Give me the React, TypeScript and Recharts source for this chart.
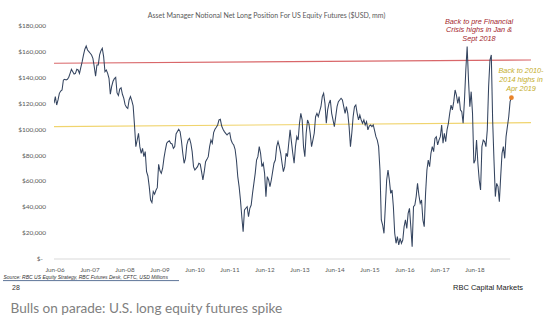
import React from 'react';
import { LineChart, Line, XAxis, YAxis, ReferenceLine, ReferenceDot } from 'recharts';

// CFTC asset manager net long, US equity futures ($mm), biweekly prints
const seriesStart = 2006.385;
const stepYears = 14 / 365.25;

// values in $ thousands of millions (k)
const net2006to2008 = [
  120.0, 125.2, 118.7, 122.6, 127.7, 129.5, 130.3, 138.0, 138.5, 138.0, 138.5, 140.1, 143.1, 146.2,
  144.4, 142.6, 143.1, 146.2, 145.7, 143.1, 147.8, 152.1, 157.3, 161.7, 164.2, 161.1, 159.9, 158.6,
  157.3, 154.7, 148.3, 141.0, 149.6, 149.6, 157.3, 160.6, 162.4, 156.0, 144.4, 145.7, 143.1, 139.3,
  127.0, 133.0, 137.0, 139.0, 140.0, 128.0, 126.0, 131.0, 132.0, 127.0, 124.0, 119.0, 117.0, 116.0,
];
const net2008to2010 = [
  122.6, 125.2, 122.1, 118.0, 103.3, 86.6, 91.7, 96.9, 86.6, 81.5, 85.3, 78.9, 82.8, 67.3, 64.0,
  55.8, 45.5, 43.5, 52.0, 50.0, 53.0, 55.0, 73.0, 68.0, 66.0, 70.0, 78.0, 84.0, 89.2, 90.5, 91.2,
  89.2, 88.7, 85.3, 86.6, 96.4, 98.2, 100.0, 98.2, 91.2, 81.5, 73.8, 77.6, 87.9, 91.7, 93.0, 89.2,
  82.8, 71.2, 68.6, 69.9, 71.2, 73.8, 73.2, 67.3, 60.9, 67.3, 75.0,
];
const net2010to2012 = [
  76.8, 78.9, 86.6, 91.7, 89.2, 97.4, 100.0, 101.5, 103.3, 107.2, 107.7, 102.5, 100.0, 98.2, 96.9,
  95.6, 96.9, 97.4, 91.7, 89.2, 87.9, 84.6, 76.3, 63.5, 55.8, 45.5, 32.6, 21.1, 37.8, 39.1, 40.3,
  32.6, 39.1, 41.6, 50.6, 58.3, 66.0, 76.3, 78.9, 86.6, 81.5, 71.2, 73.8, 66.0, 48.1, 63.5, 60.9,
  55.8, 60.9, 67.3, 73.8, 76.3, 86.6, 90.5, 86.6, 81.5, 73.8, 67.3, 71.2,
];
const net2012to2014 = [
  81.5, 78.9, 89.2, 99.5, 90.5, 81.5, 73.8, 86.6, 94.3, 91.7, 104.6, 112.3, 107.2, 86.6, 78.9,
  96.9, 107.2, 104.6, 96.9, 86.6, 91.7, 96.9, 109.7, 112.3, 109.7, 113.6, 117.4, 125.2, 127.7,
  120.0, 104.6, 114.9, 120.0, 122.6, 112.3, 107.2, 102.0, 109.7, 117.4, 121.3, 122.6, 123.9, 122.6,
  117.4, 112.3, 117.4, 112.3, 102.0, 86.6, 96.9, 109.7, 117.4, 118.7, 112.3, 107.2, 111.0, 107.2,
  104.6,
];
const net2014to2017 = [
  107.2, 103.3, 105.9, 99.5, 102.5, 103.3, 102.0, 103.3, 98.9, 94.3, 91.7, 86.6, 68.6, 30.1, 26.2,
  19.8, 40.3, 60.9, 68.6, 60.9, 50.6, 53.2, 40.3, 19.8, 12.1, 17.2, 10.8, 15.9, 12.1, 14.6, 24.9,
  30.1, 23.6, 35.2, 39.1, 24.9, 9.5, 40.3, 41.6, 48.1, 58.3, 49.3, 42.9, 45.5, 30.1, 24.9, 50.6,
  68.6, 76.3, 71.2, 81.5, 86.6, 82.8, 93.0, 94.3, 87.9, 91.7, 94.3, 103.3,
];
const net2017to2019 = [
  89.2, 96.9, 90.5, 99.5, 104.6, 112.3, 118.7, 114.9, 121.3, 130.3, 126.4, 120.0, 125.2, 114.9,
  113.6, 104.6, 122.6, 145.7, 163.7, 138.0, 117.4, 129.0, 112.3, 73.8, 76.3, 91.7, 73.8, 60.9, 53.2,
  86.6, 91.7, 90.5, 86.6, 99.5, 132.9, 153.4, 157.3, 107.2, 76.3, 48.1, 58.3, 55.8, 44.2, 63.5,
  81.5, 86.6, 77.6, 94.3, 102.0, 109.7, 121.3, 124.4,
];

const yTicks = [0, 20000, 40000, 60000, 80000, 100000, 120000, 140000, 160000, 180000];
const tickYears = [2006, 2007, 2008, 2009, 2010, 2011, 2012, 2013, 2014, 2015, 2016, 2017, 2018];
const juneOffset = 151 / 365;

// trend bands: pre-crisis highs and 2010-2014 highs (start, end)
const crisisBand = [150900, 153400];
const midBand = [102000, 105100];

const xMin = 2006.385;
const xMax = 2020.015;
const axisEnd = 2019.42;

const netLong = [
  ...net2006to2008,
  ...net2008to2010,
  ...net2010to2012,
  ...net2012to2014,
  ...net2014to2017,
  ...net2017to2019,
].map((k) => k * 1000);

const data = netLong.map((v, i) => ({ t: seriesStart + i * stepYears, v }));
const last = data[data.length - 1];

const fmtMoney = (v: number) => (v === 0 ? '$-' : '$' + v.toLocaleString('en-US'));

const YTick = (props: any) => {
  const { x, y, payload } = props;
  return (
    <text
      x={payload.value === 0 ? x - 3 : x}
      y={y}
      dy={2.3}
      textAnchor="end"
      fontSize={6.5}
      fill="#595959"
      fontFamily="Lato"
    >
      {fmtMoney(payload.value)}
    </text>
  );
};

const XTick = (props: any) => {
  const { x, y, payload } = props;
  const yr = Math.round(payload.value - juneOffset);
  return (
    <text x={x} y={y} dy={5} textAnchor="middle" fontSize={6.3} fill="#595959" fontFamily="Lato">
      {'Jun-' + String(yr).slice(2)}
    </text>
  );
};

export default function App() {
  return (
    <div style={{ position: 'absolute', left: 0, top: 0, width: 554, height: 325, background: '#fff' }}>
      <LineChart
        width={554}
        height={280}
        data={data}
        margin={{ top: 25.5, right: 23, bottom: 1, left: 0 }}
      >
        <XAxis
          dataKey="t"
          type="number"
          domain={[xMin, xMax]}
          allowDataOverflow
          ticks={tickYears.map((y) => y + juneOffset)}
          interval={0}
          axisLine={false}
          tickLine={false}
          height={20}
          tick={<XTick />}
        />
        <YAxis
          type="number"
          domain={[0, 180000]}
          ticks={yTicks}
          interval={0}
          axisLine={false}
          tickLine={false}
          width={54}
          tick={<YTick />}
        />
        <ReferenceLine
          segment={[{ x: xMin, y: 0 }, { x: axisEnd, y: 0 }]}
          stroke="#d9d9d9"
          strokeWidth={1}
        />
        <ReferenceLine
          segment={[{ x: xMin, y: crisisBand[0] }, { x: xMax, y: crisisBand[1] }]}
          stroke="#d9676a"
          strokeWidth={1.2}
        />
        <ReferenceLine
          segment={[{ x: xMin, y: midBand[0] }, { x: xMax, y: midBand[1] }]}
          stroke="#f0d46e"
          strokeWidth={1.2}
        />
        <Line
          type="linear"
          dataKey="v"
          stroke="#34445f"
          strokeWidth={1.05}
          dot={false}
          isAnimationActive={false}
        />
        <ReferenceDot x={last.t} y={last.v} r={2.4} fill="#e8832a" stroke="none" />
      </LineChart>
      <svg
        width={554}
        height={325}
        style={{ position: 'absolute', left: 0, top: 0, pointerEvents: 'none' }}
      >
        <text x={266.5} y={17.6} textAnchor="middle" fontSize={7} fill="#595959" fontFamily="Lato">
          Asset Manager Notional Net Long Position For US Equity Futures ($USD, mm)
        </text>
        <g fontFamily="Liberation Sans" fontStyle="italic" fontSize={7.3} textAnchor="middle" fill="#a3262c">
          <text x={479} y={23.6}>Back to pre Financial</text>
          <text x={479} y={32.4}>Crisis highs in Jan &amp;</text>
          <text x={479} y={41.2}>Sept 2018</text>
        </g>
        <g fontFamily="Liberation Sans" fontStyle="italic" fontSize={7.3} textAnchor="middle" fill="#c4ad2a">
          <text x={521} y={73.3}>Back to 2010-</text>
          <text x={521} y={82}>2014 highs in</text>
          <text x={521} y={90.8}>Apr 2019</text>
        </g>
        <text x={3.5} y={279} fontSize={5} fontStyle="italic" fill="#333" fontFamily="Liberation Sans">
          Source: RBC US Equity Strategy, RBC Futures Desk, CFTC, USD Millions
        </text>
        <line x1={3} x2={179} y1={280.6} y2={280.6} stroke="#34507e" strokeWidth={0.8} />
        <text x={12} y={290} fontSize={7} fill="#333" fontFamily="Liberation Sans">
          28
        </text>
        <text x={523} y={290} textAnchor="end" fontSize={7.5} fill="#222" fontFamily="Liberation Sans">
          RBC Capital Markets
        </text>
        <text x={10.5} y={313} fontSize={13.6} fill="#808080" fontFamily="Lato">
          Bulls on parade: U.S. long equity futures spike
        </text>
      </svg>
    </div>
  );
}
